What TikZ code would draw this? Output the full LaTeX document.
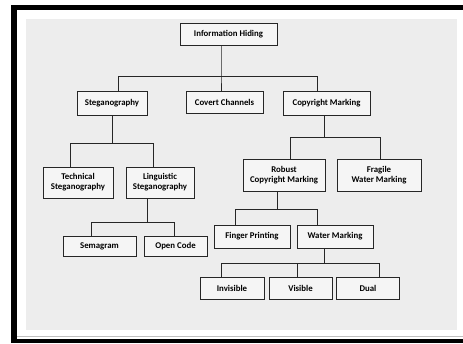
\documentclass[tikz,border=0pt]{standalone}
\usepackage{fontspec}
\setmainfont{Carlito}
\begin{document}
\begin{tikzpicture}[x=1pt,y=-1pt,
 box/.style={draw=black!85, line width=0.9pt, fill=white!96!black, align=center, inner sep=0pt,
   font=\bfseries\fontsize{8.8}{10}\selectfont},
 conn/.style={draw=black!85, line width=0.8pt}]
\useasboundingbox (0,0) rectangle (463,343);
\fill[white] (0,0) rectangle (463,343);
\fill[black] (11,5) rectangle (463,10);
\fill[black] (11,5) rectangle (17,343);
\fill[black] (11,339) rectangle (463,343);
\draw[black!25, line width=0.6pt] (17,336) -- (463,336);
\fill[black!7] (26,19) rectangle (457,330);

\node[box, minimum width=97pt, minimum height=22pt] (ih) at (228.5,34) {Information Hiding};
\node[box, minimum width=70pt, minimum height=24pt] (steg) at (112,103) {Steganography};
\node[box, minimum width=77pt, minimum height=22pt] (cc) at (224.5,102) {Covert Channels};
\node[box, minimum width=87pt, minimum height=24pt] (cm) at (326.5,103) {Copyright Marking};
\node[box, minimum width=70pt, minimum height=31pt] (tech) at (78,182.5) {Technical\\Steganography};
\node[box, minimum width=68pt, minimum height=31pt] (ling) at (160,182.5) {Linguistic\\Steganography};
\node[box, minimum width=73pt, minimum height=20pt] (sema) at (99.5,246) {Semagram};
\node[box, minimum width=63pt, minimum height=20pt] (oc) at (175.5,246) {Open Code};
\node[box, minimum width=82pt, minimum height=32pt] (rcm) at (284,175) {Robust\\Copyright Marking};
\node[box, minimum width=84pt, minimum height=32pt] (fwm) at (379,175) {Fragile\\Water Marking};
\node[box, minimum width=76pt, minimum height=23pt] (fp) at (252,236.5) {Finger Printing};
\node[box, minimum width=76pt, minimum height=23pt] (wm) at (335,236.5) {Water Marking};
\node[box, minimum width=64pt, minimum height=22pt] (inv) at (232,288) {Invisible};
\node[box, minimum width=63pt, minimum height=22pt] (vis) at (300.5,288) {Visible};
\node[box, minimum width=63pt, minimum height=22pt] (dual) at (368,288) {Dual};

% level 1
\coordinate (j1) at (221,76);
\coordinate (b1l) at (118,76);
\coordinate (b1r) at (317,76);
\draw[conn] (ih.south -| j1) -- (j1) -- (cc.north -| j1);
\draw[conn] (steg.north -| b1l) -- (b1l) -- (b1r) -- (cm.north -| b1r);
% steganography
\coordinate (j2) at (112,143);
\coordinate (b2l) at (70,143);
\coordinate (b2r) at (153,143);
\draw[conn] (steg.south) -- (j2);
\draw[conn] (tech.north -| b2l) -- (b2l) -- (b2r) -- (ling.north -| b2r);
% linguistic
\coordinate (j3) at (147,222);
\coordinate (b3l) at (91,222);
\coordinate (b3r) at (174,222);
\draw[conn] (ling.south -| j3) -- (j3);
\draw[conn] (sema.north -| b3l) -- (b3l) -- (b3r) -- (oc.north -| b3r);
% copyright marking
\coordinate (j4) at (324,137);
\coordinate (b4l) at (290,137);
\coordinate (b4r) at (380,137);
\draw[conn] (cm.south -| j4) -- (j4);
\draw[conn] (rcm.north -| b4l) -- (b4l) -- (b4r) -- (fwm.north -| b4r);
% robust
\coordinate (j5) at (277,209);
\coordinate (b5l) at (235,209);
\coordinate (b5r) at (317,209);
\draw[conn] (rcm.south -| j5) -- (j5);
\draw[conn] (fp.north -| b5l) -- (b5l) -- (b5r) -- (wm.north -| b5r);
% water marking
\coordinate (j6) at (324,263);
\coordinate (j6v) at (297,263);
\coordinate (b6l) at (221,263);
\coordinate (b6r) at (379,263);
\draw[conn] (wm.south -| j6) -- (j6);
\draw[conn] (inv.north -| b6l) -- (b6l) -- (b6r) -- (dual.north -| b6r);
\draw[conn] (j6v) -- (vis.north -| j6v);
\end{tikzpicture}
\end{document}
